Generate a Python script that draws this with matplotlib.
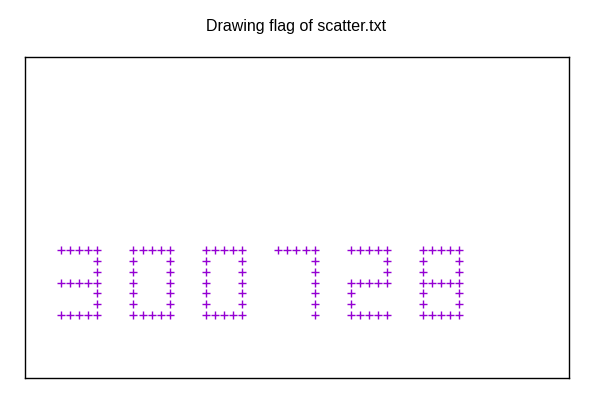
import numpy as np
import matplotlib.pyplot as plt

plt.rcParams['font.family'] = ['Liberation Sans', 'DejaVu Sans']

# 5x7 bitmap of each digit in the flag
digitos = ['3', '0', '0', '7', '2', '8']
glifos = {
    '3': ['#####', '....#', '....#', '#####', '....#', '....#', '#####'],
    '0': ['#####', '#...#', '#...#', '#...#', '#...#', '#...#', '#####'],
    '7': ['#####', '....#', '....#', '....#', '....#', '....#', '....#'],
    '2': ['#####', '....#', '....#', '#####', '#....', '#....', '#####'],
    '8': ['#####', '#...#', '#...#', '#####', '#...#', '#...#', '#####'],
}
passo_digito = 8


def pontos_do_flag(digitos):
    xs, ys = [], []
    for d, ch in enumerate(digitos):
        for r, linha in enumerate(glifos[ch]):
            for c, v in enumerate(linha):
                if v == '#':
                    xs.append(d * passo_digito + c)
                    ys.append(6 - r)
    return np.array(xs), np.array(ys)


x, y = pontos_do_flag(digitos)

fig = plt.figure(figsize=(6, 4), dpi=100)
ax = fig.add_axes([25 / 600, 22 / 400, 544 / 600, 321 / 400])
ax.scatter(x, y, marker='+', s=30, linewidths=1, color='#9400D3')
ax.set_xlim(-3.98, 56.1)
ax.set_ylim(-5.8, 23.8)
ax.set_xticks([])
ax.set_yticks([])
for s in ax.spines.values():
    s.set_linewidth(1)

fig.text(296 / 600, 1 - 27 / 400, 'Drawing flag of scatter.txt',
         ha='center', va='center', fontsize=11.5)

fig.savefig('out.png', dpi=100)
